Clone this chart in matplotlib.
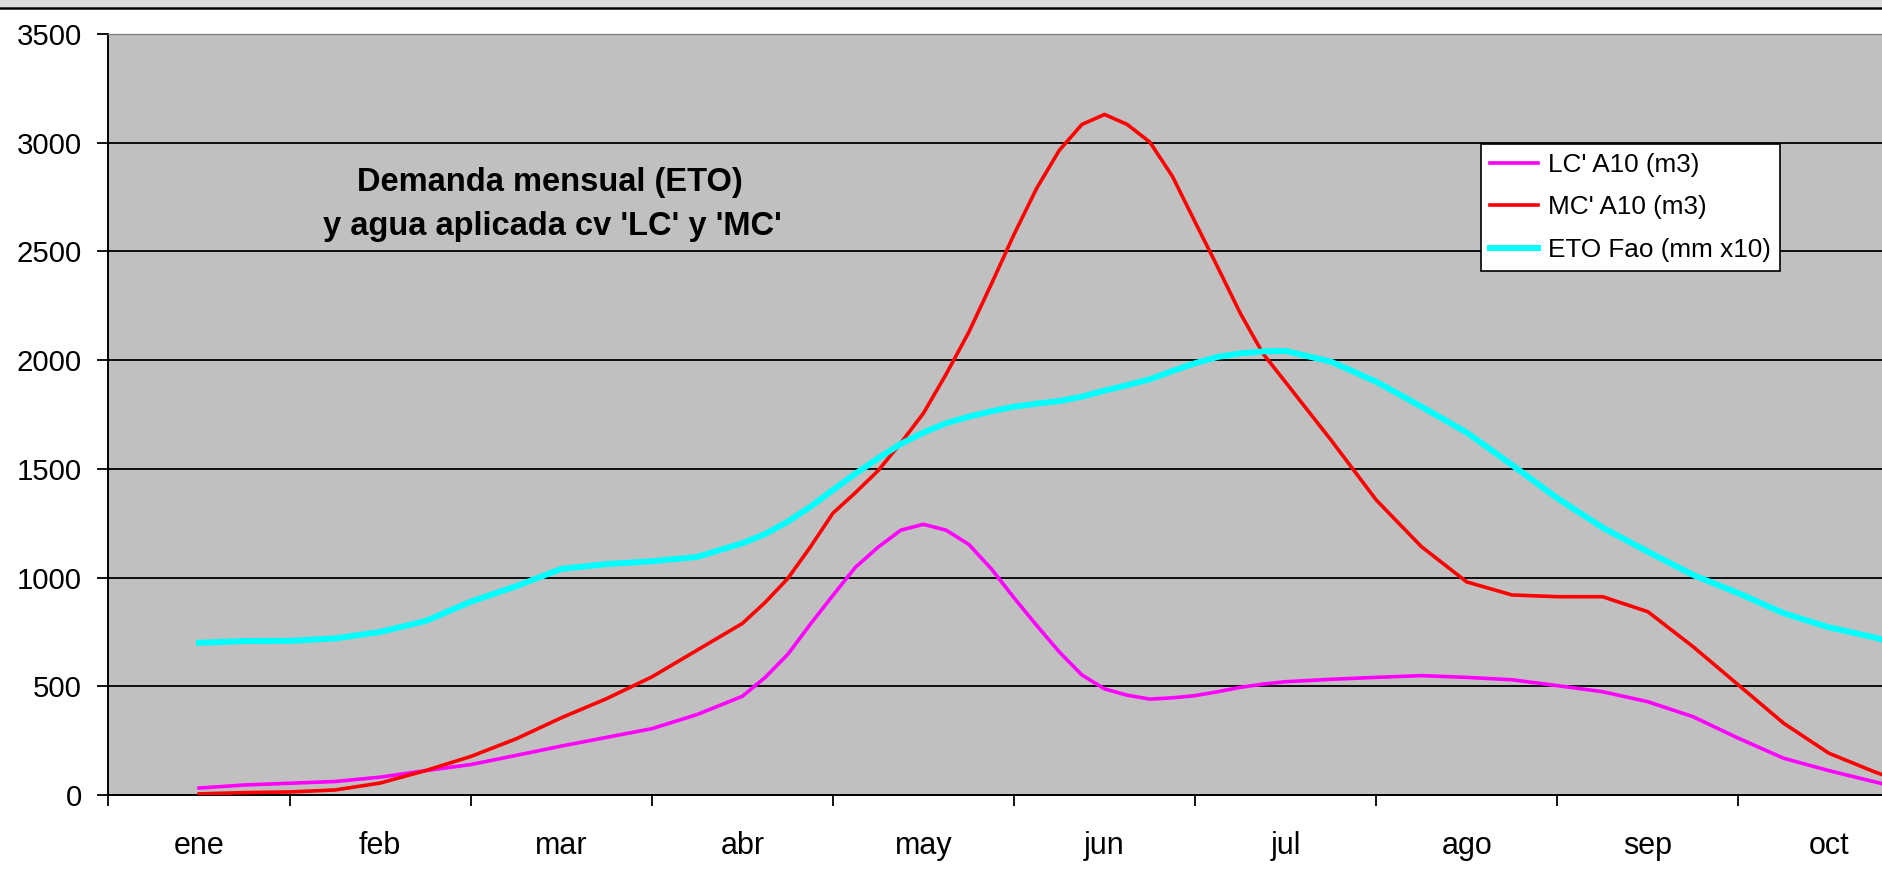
"""
Demanda mensual (ETO) y agua aplicada cv 'LC' y 'MC'
Excel-style line chart, grey plot area, months on x.
"""

import matplotlib
matplotlib.use("Agg")
import matplotlib.pyplot as plt
from matplotlib.patches import Rectangle
from matplotlib.lines import Line2D

plt.rcParams["font.family"] = ["Liberation Sans", "DejaVu Sans"]

# ─────────────────────────────────────────────
# DATA
# ─────────────────────────────────────────────
MONTHS = ["ene", "feb", "mar", "abr", "may", "jun", "jul", "ago", "sep", "oct"]

# sample positions in month units (0.5 = middle of "ene"),
# denser around the peaks
X_POS = [0.5, 0.75, 1.0, 1.25, 1.5, 1.75, 2.0, 2.25, 2.5, 2.75, 3.0, 3.25,
         3.5, 3.625, 3.75, 3.875, 4.0, 4.125, 4.25, 4.375, 4.5, 4.625,
         4.75, 4.875, 5.0, 5.125, 5.25, 5.375, 5.5, 5.625, 5.75, 5.875,
         6.0, 6.125, 6.25, 6.375, 6.5,
         6.75, 7.0, 7.25, 7.5, 7.75, 8.0, 8.25, 8.5, 8.75, 9.0, 9.25,
         9.5, 9.75, 9.8]

LC_A10 = [32, 46, 54, 62, 82, 112, 140, 182, 225, 265, 305, 370,
          454, 540, 646, 785, 918, 1048, 1140, 1218, 1245, 1218,
          1153, 1040, 907, 780, 658, 552, 488, 459, 441, 447,
          457, 475, 495, 510, 521,
          532, 541, 549, 541, 530, 503, 475, 429, 360, 261, 169,
          112, 61, 51]

MC_A10 = [5, 11, 14, 23, 55, 112, 177, 258, 355, 443, 543, 666,
          789, 885, 995, 1140, 1296, 1391, 1492, 1619, 1756, 1935,
          2128, 2350, 2578, 2790, 2965, 3084, 3130, 3084, 3003, 2845,
          2635, 2427, 2215, 2030, 1898,
          1633, 1357, 1142, 980, 920, 912, 912, 843, 682, 506, 330,
          192, 107, 92]

ETO_FAO = [700, 708, 709, 720, 750, 800, 889, 960, 1040, 1062, 1075, 1095,
           1158, 1200, 1257, 1325, 1403, 1478, 1549, 1615, 1667, 1710,
           1740, 1765, 1786, 1800, 1812, 1832, 1860, 1885, 1912, 1950,
           1986, 2015, 2031, 2040, 2042,
           1993, 1901, 1786, 1667, 1518, 1365, 1230, 1119, 1012, 928, 836,
           771, 725, 713]

SERIES = [
    ("LC' A10 (m3)", LC_A10, "#ff00ff", 2.6),
    ("MC' A10 (m3)", MC_A10, "#ff0000", 2.6),
    ("ETO Fao (mm x10)", ETO_FAO, "#00ffff", 4.3),
]

Y_TICKS = [0, 500, 1000, 1500, 2000, 2500, 3000, 3500]

# ─────────────────────────────────────────────
# FIGURE
# ─────────────────────────────────────────────
W, H = 1883, 880
fig = plt.figure(figsize=(W / 100, H / 100), dpi=100, facecolor="white")

# grey strip + dark rule at the very top (window chrome of the screenshot)
fig.add_artist(Rectangle((0, 1 - 7 / H), 1, 7 / H, transform=fig.transFigure,
                         facecolor="#dcdcdc", edgecolor="none"))
fig.add_artist(Line2D([0, 1], [1 - 8 / H, 1 - 8 / H], transform=fig.transFigure,
                      color="black", lw=1.8))

left, bottom, top = 108.5, 795, 34
ax = fig.add_axes([left / W, 1 - bottom / H, 1 - left / W, (bottom - top) / H])
ax.set_facecolor("#c0c0c0")

for label, vals, color, lw in SERIES:
    ax.plot(X_POS, vals, color=color, lw=lw, label=label,
            solid_joinstyle="round", zorder=3)

# axes / ticks
ax.set_xlim(0, (W - left) / 181.1)
ax.set_ylim(0, 3500)
ax.set_yticks(Y_TICKS)
ax.set_yticklabels([str(v) for v in Y_TICKS])
ax.set_xticks(range(len(MONTHS)))
ax.set_xticklabels([])
ax.set_xticks([i + 0.5 for i in range(len(MONTHS))], minor=True)
ax.set_xticklabels(MONTHS, minor=True)
ax.tick_params(axis="x", which="minor", length=0, pad=26, labelsize=22)
ax.tick_params(axis="x", which="major", length=8, width=1.3, direction="out")
ax.tick_params(axis="y", length=8, width=1.3, direction="out", pad=11, labelsize=21.2)

ax.grid(True, axis="y", color="black", lw=1.3)
ax.set_axisbelow(True)

for side in ["left", "bottom"]:
    ax.spines[side].set_color("black")
    ax.spines[side].set_linewidth(1.4)
ax.spines["top"].set_color("#808080")
ax.spines["top"].set_linewidth(1.0)
ax.spines["right"].set_visible(False)

# chart title inside the plot area
ax.text(550 / W, 1 - 182 / H, "Demanda mensual (ETO)", transform=fig.transFigure,
        ha="center", va="center", fontsize=23.5, fontweight="bold")
ax.text(552 / W, 1 - 226 / H, "y agua aplicada cv 'LC' y 'MC'", transform=fig.transFigure,
        ha="center", va="center", fontsize=23.5, fontweight="bold")

leg = ax.legend(loc="upper left", bbox_to_anchor=(1481 / W, 1 - 144 / H),
                bbox_transform=fig.transFigure, borderaxespad=0,
                fontsize=18.8, frameon=True, fancybox=False, framealpha=1,
                handlelength=1.85, handletextpad=0.35, labelspacing=0.7,
                borderpad=0.35)
leg.get_frame().set_edgecolor("black")
leg.get_frame().set_linewidth(1.2)
leg.get_frame().set_facecolor("white")

fig.savefig("out.png", dpi=100, facecolor=fig.get_facecolor())
plt.close(fig)
